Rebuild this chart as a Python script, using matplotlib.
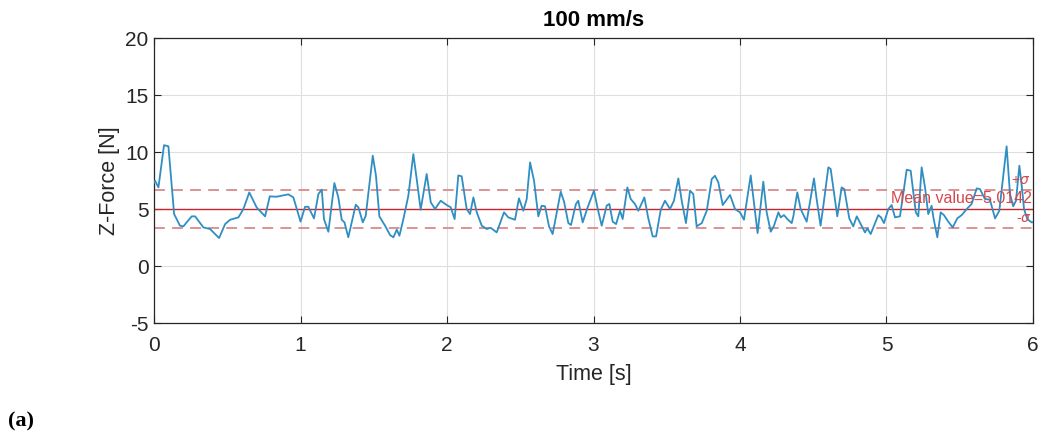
import matplotlib
matplotlib.use("Agg")
import matplotlib.pyplot as plt
import numpy as np

# ---- data ----
time_s = [0.0, 0.007, 0.03, 0.068, 0.098, 0.137, 0.177, 0.2, 0.257, 0.28, 0.337, 0.382, 0.444,
          0.485, 0.519, 0.576, 0.61, 0.65, 0.70, 0.758, 0.79, 0.837, 0.882, 0.917, 0.951, 1.0,
          1.031, 1.053, 1.092, 1.122, 1.145, 1.16, 1.19, 1.231, 1.258, 1.281, 1.3, 1.326, 1.377,
          1.395, 1.425, 1.445, 1.493, 1.515, 1.538, 1.577, 1.611, 1.634, 1.657, 1.675, 1.702,
          1.736, 1.77, 1.793, 1.82, 1.861, 1.889, 1.918, 1.957, 1.998, 2.025, 2.052, 2.077, 2.1,
          2.134, 2.157, 2.18, 2.203, 2.237, 2.271, 2.298, 2.339, 2.389, 2.418, 2.464, 2.491,
          2.521, 2.544, 2.567, 2.594, 2.623, 2.646, 2.669, 2.696, 2.721, 2.776, 2.799, 2.828,
          2.846, 2.88, 2.896, 2.926, 2.96, 3.003, 3.029, 3.056, 3.09, 3.108, 3.131, 3.154, 3.181,
          3.199, 3.231, 3.254, 3.283, 3.306, 3.347, 3.374, 3.404, 3.427, 3.459, 3.488, 3.522,
          3.549, 3.579, 3.602, 3.631, 3.659, 3.681, 3.704, 3.739, 3.773, 3.807, 3.829, 3.852,
          3.882, 3.932, 3.966, 4.0, 4.027, 4.073, 4.1, 4.12, 4.159, 4.182, 4.21, 4.232, 4.262,
          4.278, 4.3, 4.323, 4.353, 4.364, 4.391, 4.414, 4.455, 4.505, 4.523, 4.55, 4.569, 4.603,
          4.619, 4.664, 4.694, 4.712, 4.746, 4.773, 4.797, 4.824, 4.853, 4.869, 4.892, 4.944,
          4.962, 4.983, 5.012, 5.035, 5.058, 5.092, 5.138, 5.165, 5.2, 5.217, 5.24, 5.263, 5.285,
          5.308, 5.32, 5.347, 5.37, 5.392, 5.422, 5.452, 5.483, 5.513, 5.552, 5.581, 5.616,
          5.638, 5.672, 5.706, 5.741, 5.77, 5.797, 5.82, 5.843, 5.865, 5.884, 5.907, 5.923,
          5.939, 5.961, 5.991, 6.0]
z_force = [7.3, 7.48, 6.9, 10.6, 10.5, 4.56, 3.54, 3.48, 4.36, 4.36, 3.39, 3.25, 2.46,
           3.68, 4.06, 4.27, 5.0, 6.46, 5.15, 4.36, 6.11, 6.08, 6.2, 6.29, 6.02, 3.9,
           5.2, 5.2, 4.18, 6.32, 6.7, 4.12, 3.01, 7.28, 6.02, 4.06, 3.83, 2.52, 5.38,
           5.15, 3.83, 4.41, 9.68, 7.92, 4.36, 3.54, 2.72, 2.52, 3.19, 2.66, 4.12,
           6.17, 9.82, 7.63, 4.94, 8.07, 5.59, 5.0, 5.73, 5.35, 5.15, 4.12, 7.95, 7.87,
           5.0, 4.56, 6.02, 4.71, 3.54, 3.25, 3.36, 2.95, 4.71, 4.27, 4.06, 5.94,
           4.85, 5.88, 9.09, 7.48, 4.36, 5.29, 5.24, 3.48, 2.81, 6.52, 5.64, 3.77,
           3.6, 5.44, 5.73, 3.83, 5.15, 6.61, 5.0, 3.54, 5.3, 5.45, 3.89, 3.68, 4.85,
           4.12, 6.9, 5.88, 5.44, 4.85, 6.02, 4.18, 2.6, 2.6, 4.94, 5.73, 5.0,
           5.73, 7.69, 5.73, 3.77, 6.61, 6.32, 3.48, 3.77, 4.85, 7.63, 7.92, 7.34,
           5.35, 6.23, 5.0, 4.71, 4.06, 7.95, 5.0, 2.89, 7.4, 4.71, 3.01, 3.54, 4.71,
           4.27, 4.47, 4.12, 3.77, 4.36, 6.46, 5.0, 3.89, 7.69, 5.88, 3.54, 5.29, 8.66,
           8.51, 4.36, 6.9, 6.75, 4.18, 3.48, 4.36, 3.68, 2.95, 3.3, 2.81, 4.47,
           4.27, 3.77, 5.0, 5.35, 4.27, 4.36, 8.45, 8.36, 4.71, 4.36, 8.66, 6.9, 4.56,
           5.29, 4.27, 2.52, 4.71, 4.47, 3.89, 3.39, 4.18, 4.47, 5.06, 5.44, 6.81,
           6.75, 5.88, 5.82, 4.18, 4.85, 7.92, 10.5, 6.32, 5.24, 5.73, 8.8, 7.05,
           5.0, 4.12, 3.83, 3.85]
mean_value = 5.0142
sigma = 1.67
x_ticks = [0, 1, 2, 3, 4, 5, 6]
y_ticks = [-5, 0, 5, 10, 15, 20]

plt.rcParams['font.family'] = ['Liberation Sans', 'DejaVu Sans']
plt.rcParams['axes.unicode_minus'] = False

fig = plt.figure(figsize=(10.43, 4.45), dpi=100)
ax = fig.add_axes([0.1477, 0.274, 0.8427, 0.6406])

ax.plot(time_s, z_force, color='#2f8ec2', lw=1.3, zorder=3)
ax.axhline(mean_value, color='#c8262c', lw=1.0, zorder=2)
ax.axhline(mean_value + sigma, color='#d98a8c', lw=1.3, ls=(0, (6, 4)), zorder=2)
ax.axhline(mean_value - sigma, color='#d98a8c', lw=1.3, ls=(0, (6, 4)), zorder=2)

ax.text(5.99, mean_value + 0.9, 'Mean value=5.0142', color='#d4484c', fontsize=11.5,
        ha='right', va='center', zorder=4)
ax.text(5.98, mean_value + sigma + 0.85, r'+$\sigma$', color='#d4484c', fontsize=10,
        ha='right', va='center', zorder=4)
ax.text(5.99, mean_value - sigma + 0.85, r'-$\sigma$', color='#d4484c', fontsize=10,
        ha='right', va='center', zorder=4)

ax.set_xlim(0, 6)
ax.set_ylim(-5, 20)
ax.set_xticks(x_ticks)
ax.set_yticks(y_ticks)
ax.grid(True, color='#dedede', lw=0.8)
ax.set_axisbelow(True)
ax.tick_params(direction='in', length=5, width=0.8, top=True, right=True,
               labelsize=15, colors='#262626', pad=4)
ax.tick_params(axis='x', pad=9)
for s in ax.spines.values():
    s.set_color('#262626')
    s.set_linewidth(0.9)

ax.set_xlabel('Time [s]', fontsize=15.5, color='#262626', labelpad=7)
ax.set_ylabel('Z-Force [N]', fontsize=15.5, color='#262626', labelpad=4)
ax.set_title('100 mm/s', fontsize=16, fontweight='bold', pad=9)

fig.text(0.008, 0.03, '(a)', fontsize=16, fontweight='bold',
         family=['Liberation Serif', 'DejaVu Serif'], ha='left', va='bottom')

fig.savefig('out.png', dpi=100)
